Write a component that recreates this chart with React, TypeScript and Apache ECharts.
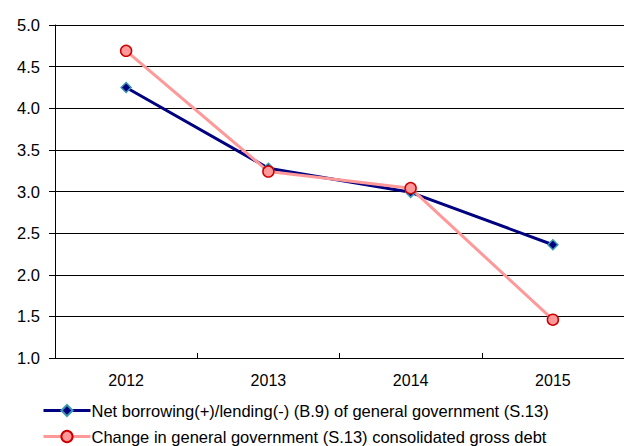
import React, { useEffect, useRef } from "react";
import * as echarts from "echarts";

const categories = ["2012", "2013", "2014", "2015"];
const netBorrowing = [4.25, 3.28, 2.99, 2.36];
const debtChange = [4.69, 3.24, 3.04, 1.46];
const seriesNames = [
  "Net borrowing(+)/lending(-) (B.9) of general government (S.13)",
  "Change in general government (S.13) consolidated gross debt",
];

export default function App() {
  const ref = useRef<HTMLDivElement>(null);
  useEffect(() => {
    document.body.style.margin = "0";
    const chart = echarts.init(ref.current!, null, { renderer: "svg" });
    const font = "Liberation Sans, Arial, sans-serif";
    chart.setOption({
      animation: false,
      backgroundColor: "#ffffff",
      textStyle: { fontFamily: font },
      grid: { left: 55, right: 0, top: 25, bottom: 88, containLabel: false },
      xAxis: {
        type: "category",
        data: categories,
        boundaryGap: true,
        axisLine: { lineStyle: { color: "#000", width: 1 } },
        axisTick: { show: true, inside: true, length: 5, lineStyle: { color: "#000" } },
        axisLabel: { color: "#000", fontSize: 16, margin: 14, fontFamily: font },
        splitLine: { show: false },
      },
      yAxis: {
        type: "value",
        min: 1,
        max: 5,
        interval: 0.5,
        axisLine: { show: true, lineStyle: { color: "#000", width: 1 } },
        axisTick: { show: true, inside: false, length: 6, lineStyle: { color: "#000" } },
        axisLabel: {
          color: "#000",
          fontSize: 16.5,
          margin: 15,
          fontFamily: font,
          formatter: (v: number) => v.toFixed(1),
        },
        splitLine: { show: true, lineStyle: { color: "#000", width: 1 } },
      },
      legend: {
        orient: "vertical",
        left: 42,
        bottom: 1,
        padding: 0,
        itemWidth: 47,
        itemHeight: 14,
        itemGap: 9,
        lineStyle: { width: 3 },
        textStyle: { color: "#000", fontSize: 16.5, fontFamily: font, padding: [0, 0, 0, -4] },
        data: seriesNames,
      },
      series: [
        {
          name: seriesNames[0],
          type: "line",
          data: netBorrowing,
          symbol: "diamond",
          symbolSize: 10,
          lineStyle: { color: "#000080", width: 3 },
          itemStyle: { color: "#000080", borderColor: "#3A9AB0", borderWidth: 1.5 },
        },
        {
          name: seriesNames[1],
          type: "line",
          data: debtChange,
          symbol: "circle",
          symbolSize: 11,
          lineStyle: { color: "#FF9999", width: 3 },
          itemStyle: { color: "#FF9999", borderColor: "#CC0000", borderWidth: 1.5 },
        },
      ],
    });
    return () => chart.dispose();
  }, []);
  return <div ref={ref} style={{ width: 624, height: 446 }} />;
}
